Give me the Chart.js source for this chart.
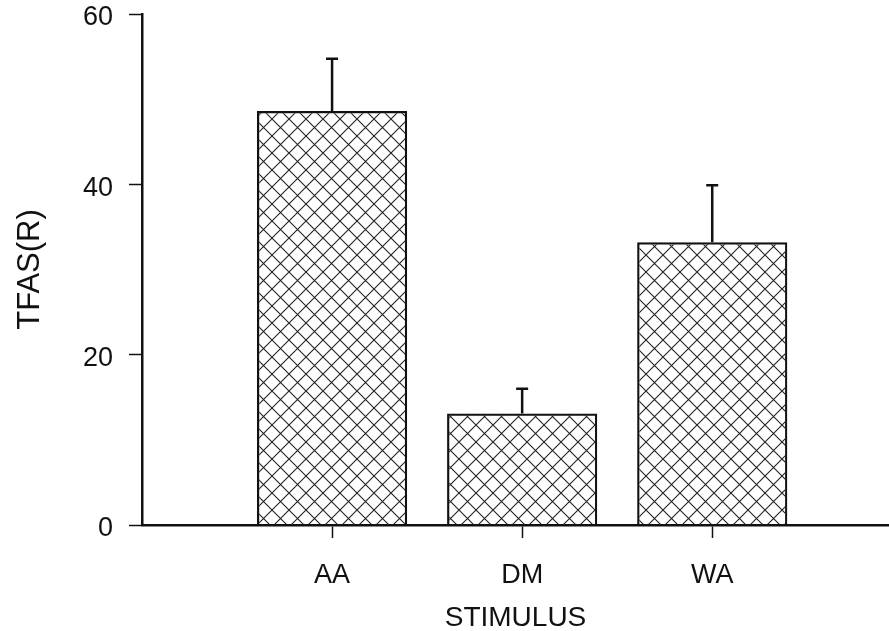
<!DOCTYPE html>
<html>
<head>
<meta charset="utf-8">
<script src="https://cdn.jsdelivr.net/npm/chart.js@4"></script>
<style>
  html, body { margin: 0; padding: 0; background: #fff; overflow: hidden; }
</style>
</head>
<body>
<canvas id="tfasChart" width="889" height="631"></canvas>
<script>
// values
const categories = ["AA", "DM", "WA"];
const tfasValues = [48.6, 13.1, 33.2];
const tfasErrors = [6.15, 2.9, 6.7];
const yTicks = [0, 20, 40, 60];

// bars sit at positions 1..3 of a numeric x axis starting at the y axis
const barPoints = categories.map((c, i) => ({ x: i + 1, y: tfasValues[i] }));

function crossHatch() {
  const c = document.createElement("canvas");
  c.width = 17;
  c.height = 17;
  const g = c.getContext("2d");
  g.strokeStyle = "#222";
  g.lineWidth = 1.1;
  g.beginPath();
  g.moveTo(0, 0); g.lineTo(17, 17);
  g.moveTo(17, 0); g.lineTo(0, 17);
  g.stroke();
  return g.createPattern(c, "repeat");
}

// upward error bars with a small cap
const errorBars = {
  id: "errorBars",
  afterDatasetsDraw(chart) {
    const ctx = chart.ctx;
    const meta = chart.getDatasetMeta(0);
    const y = chart.scales.y;
    ctx.save();
    ctx.strokeStyle = "#111";
    ctx.lineWidth = 2.5;
    meta.data.forEach((bar, i) => {
      const top = y.getPixelForValue(tfasValues[i] + tfasErrors[i]);
      ctx.beginPath();
      ctx.moveTo(bar.x, bar.y);
      ctx.lineTo(bar.x, top);
      ctx.moveTo(bar.x - 6, top);
      ctx.lineTo(bar.x + 6, top);
      ctx.stroke();
    });
    ctx.restore();
  }
};

const font = "'Liberation Sans', Arial, sans-serif";

window.onload = function () {
  const ctx = document.getElementById("tfasChart").getContext("2d");
  new Chart(ctx, {
    type: "bar",
    data: {
      datasets: [{
        data: barPoints,
        backgroundColor: crossHatch(),
        borderColor: "#111",
        borderWidth: 2.2,
        borderSkipped: "bottom",
        categoryPercentage: 1,
        barPercentage: 0.79
      }]
    },
    options: {
      responsive: false,
      animation: false,
      layout: { padding: 0 },
      plugins: { legend: { display: false }, tooltip: { enabled: false } },
      scales: {
        x: {
          type: "linear",
          min: 0,
          max: 3.93,
          offset: false,
          border: { color: "#111", width: 2.5 },
          grid: { offset: false, drawOnChartArea: false, tickLength: 13, tickWidth: 1.5, tickColor: "#111" },
          afterBuildTicks(scale) { scale.ticks = categories.map((c, i) => ({ value: i + 1 })); },
          ticks: {
            padding: 21,
            color: "#111",
            font: { family: font, size: 27 },
            callback: (v) => categories[v - 1]
          },
          title: {
            display: true,
            text: "STIMULUS",
            color: "#111",
            padding: { top: 0, bottom: 0 },
            font: { family: font, size: 28, lineHeight: 0.9 }
          },
          afterFit(scale) { scale.height = 106; scale.paddingLeft = 0; scale.paddingRight = 0; }
        },
        y: {
          min: 0,
          max: 60,
          border: { color: "#111", width: 2.5 },
          grid: { drawOnChartArea: false, tickLength: 13, tickWidth: 1.5, tickColor: "#111" },
          afterBuildTicks(scale) { scale.ticks = yTicks.map((v) => ({ value: v })); },
          ticks: {
            padding: 16,
            labelOffset: 4,
            color: "#111",
            font: { family: font, size: 27 }
          },
          title: {
            display: true,
            text: "TFAS(R)",
            color: "#111",
            padding: { top: 12, bottom: 0 },
            font: { family: font, size: 31 }
          },
          afterFit(scale) { scale.width = 142; scale.paddingTop = 14; scale.paddingBottom = 0; }
        }
      }
    },
    plugins: [errorBars]
  });
};
</script>
</body>
</html>
